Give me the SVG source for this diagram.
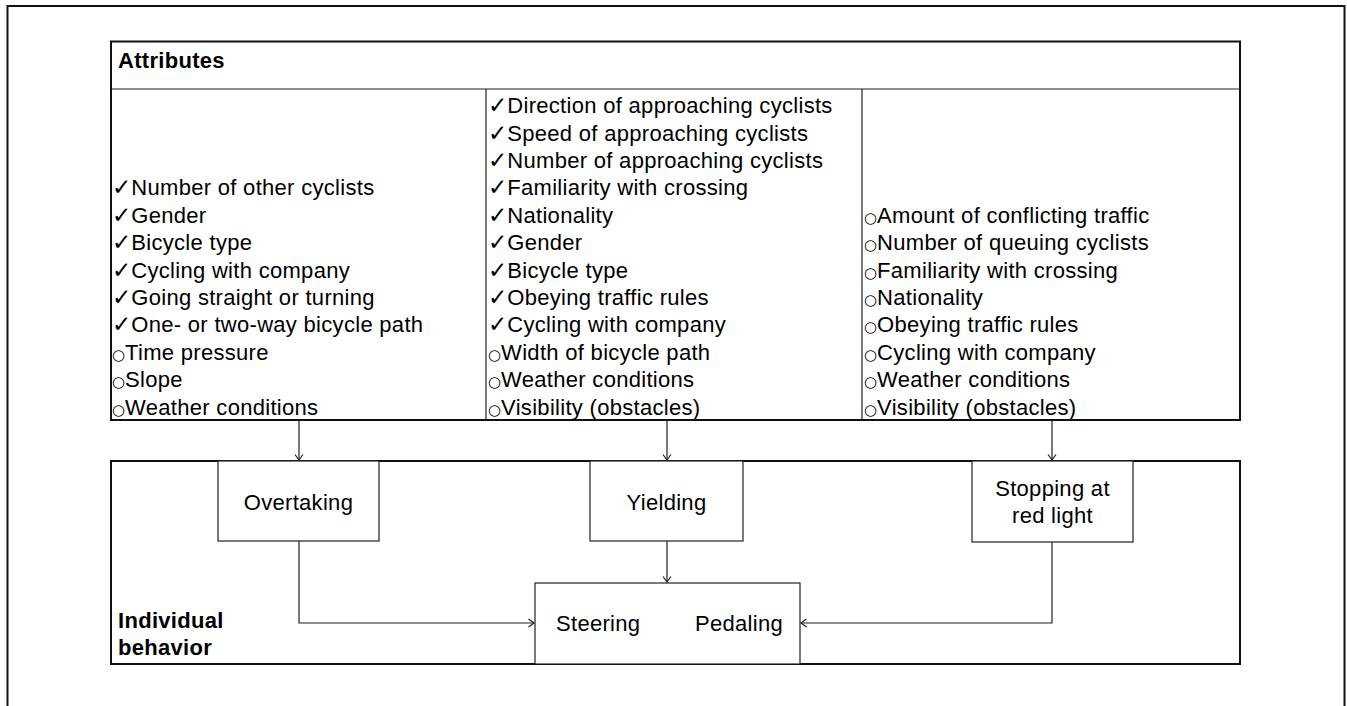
<svg xmlns="http://www.w3.org/2000/svg" width="1347" height="706" viewBox="0 0 1347 706">
<style>
text{font-family:"Liberation Sans",Arial,"DejaVu Sans",sans-serif;font-size:22px;letter-spacing:0.3px;fill:#000}
.b{font-weight:bold}
.ck{font-family:"DejaVu Sans",sans-serif;font-size:23px;letter-spacing:0}
.ci{font-family:"DejaVu Sans",sans-serif;font-size:15px;letter-spacing:0}
.thick{fill:none;stroke:#111;stroke-width:2}
.thin{fill:#fff;stroke:#222;stroke-width:1.2}
.con{fill:none;stroke:#222;stroke-width:1.2}
.mid{text-anchor:middle}
</style>
<defs>
<marker id="ah" markerWidth="8" markerHeight="10" refX="6" refY="5" orient="auto" markerUnits="userSpaceOnUse">
<path d="M0.5,1 L6,5 L0.5,9" fill="none" stroke="#222" stroke-width="1.2"/>
</marker>
</defs>
<rect width="1347" height="706" fill="#fff"/>
<path d="M7.5,712 V6 H1344.5 V712" class="thick"/>

<g id="attributes">
<rect x="111" y="41.5" width="1129" height="378.5" class="thick"/>
<line x1="111" y1="89" x2="1240" y2="89" stroke="#222" stroke-width="1.2"/>
<line x1="486" y1="89" x2="486" y2="420" stroke="#222" stroke-width="1.2"/>
<line x1="862" y1="89" x2="862" y2="420" stroke="#222" stroke-width="1.2"/>
<text x="118" y="68" class="b">Attributes</text>
</g>

<g id="col-overtaking">
<text x="112" y="195.3"><tspan class="ck">✓</tspan>Number of other cyclists</text>
<text x="112" y="222.7"><tspan class="ck">✓</tspan>Gender</text>
<text x="112" y="250.1"><tspan class="ck">✓</tspan>Bicycle type</text>
<text x="112" y="277.5"><tspan class="ck">✓</tspan>Cycling with company</text>
<text x="112" y="304.9"><tspan class="ck">✓</tspan>Going straight or turning</text>
<text x="112" y="332.3"><tspan class="ck">✓</tspan>One- or two-way bicycle path</text>
<text x="112" y="359.7"><tspan class="ci">○</tspan>Time pressure</text>
<text x="112" y="387.1"><tspan class="ci">○</tspan>Slope</text>
<text x="112" y="414.5"><tspan class="ci">○</tspan>Weather conditions</text>
</g>

<g id="col-yielding">
<text x="488" y="113.1"><tspan class="ck">✓</tspan>Direction of approaching cyclists</text>
<text x="488" y="140.5"><tspan class="ck">✓</tspan>Speed of approaching cyclists</text>
<text x="488" y="167.9"><tspan class="ck">✓</tspan>Number of approaching cyclists</text>
<text x="488" y="195.3"><tspan class="ck">✓</tspan>Familiarity with crossing</text>
<text x="488" y="222.7"><tspan class="ck">✓</tspan>Nationality</text>
<text x="488" y="250.1"><tspan class="ck">✓</tspan>Gender</text>
<text x="488" y="277.5"><tspan class="ck">✓</tspan>Bicycle type</text>
<text x="488" y="304.9"><tspan class="ck">✓</tspan>Obeying traffic rules</text>
<text x="488" y="332.3"><tspan class="ck">✓</tspan>Cycling with company</text>
<text x="488" y="359.7"><tspan class="ci">○</tspan>Width of bicycle path</text>
<text x="488" y="387.1"><tspan class="ci">○</tspan>Weather conditions</text>
<text x="488" y="414.5"><tspan class="ci">○</tspan>Visibility (obstacles)</text>
</g>

<g id="col-stopping">
<text x="864" y="222.7"><tspan class="ci">○</tspan>Amount of conflicting traffic</text>
<text x="864" y="250.1"><tspan class="ci">○</tspan>Number of queuing cyclists</text>
<text x="864" y="277.5"><tspan class="ci">○</tspan>Familiarity with crossing</text>
<text x="864" y="304.9"><tspan class="ci">○</tspan>Nationality</text>
<text x="864" y="332.3"><tspan class="ci">○</tspan>Obeying traffic rules</text>
<text x="864" y="359.7"><tspan class="ci">○</tspan>Cycling with company</text>
<text x="864" y="387.1"><tspan class="ci">○</tspan>Weather conditions</text>
<text x="864" y="414.5"><tspan class="ci">○</tspan>Visibility (obstacles)</text>
</g>

<g id="behavior">
<rect x="111" y="461" width="1129" height="203" class="thick"/>
<text x="118" y="628" class="b">Individual</text>
<text x="118" y="655" class="b">behavior</text>
</g>

<g id="overtaking">
<rect x="218" y="461" width="161" height="80" class="thin"/>
<text x="298.5" y="510" class="mid">Overtaking</text>
</g>

<g id="yielding">
<rect x="590" y="461" width="153" height="80" class="thin"/>
<text x="666.5" y="510" class="mid">Yielding</text>
</g>

<g id="stopping">
<rect x="972" y="461" width="161" height="81" class="thin"/>
<text x="1052.5" y="496" class="mid">Stopping at</text>
<text x="1052.5" y="523" class="mid">red light</text>
</g>

<g id="steering-pedaling">
<rect x="535" y="583" width="265" height="81" class="thin"/>
<text x="556" y="631">Steering</text>
<text x="695" y="631">Pedaling</text>
</g>

<g id="connectors">
<path d="M299,421 V460" class="con" marker-end="url(#ah)"/>
<path d="M667,421 V460" class="con" marker-end="url(#ah)"/>
<path d="M1052,421 V460" class="con" marker-end="url(#ah)"/>
<path d="M299,541 V623 H534" class="con" marker-end="url(#ah)"/>
<path d="M667,541 V582" class="con" marker-end="url(#ah)"/>
<path d="M1052,542 V623 H801" class="con" marker-end="url(#ah)"/>
</g>
</svg>
